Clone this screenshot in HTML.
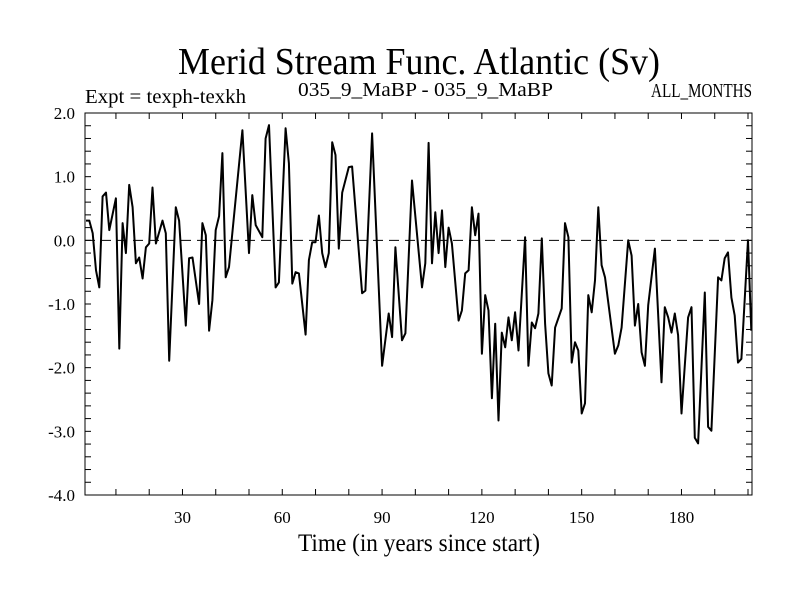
<!DOCTYPE html>
<html><head><meta charset="utf-8"><style>
html,body{margin:0;padding:0;background:#fff;}
svg{display:block;font-family:"Liberation Serif",serif;}
</style></head><body>
<svg id="chart" width="800" height="600" viewBox="0 0 800 600">
<text x="178" y="74" font-size="38" textLength="482" lengthAdjust="spacingAndGlyphs">Merid Stream Func. Atlantic (Sv)</text>
<text x="85" y="103" font-size="20" textLength="161" lengthAdjust="spacingAndGlyphs">Expt = texph-texkh</text>
<text x="298" y="96" font-size="20" textLength="255" lengthAdjust="spacingAndGlyphs">035_9_MaBP - 035_9_MaBP</text>
<text x="651" y="97" font-size="20" textLength="101" lengthAdjust="spacingAndGlyphs">ALL_MONTHS</text>
<text x="298" y="551" font-size="25" textLength="242" lengthAdjust="spacingAndGlyphs">Time (in years since start)</text>
<g id="axes"></g>
<g id="series"></g>
</svg>
<script>
const years = [1,2,3,4,5,6,7,8,10,11,12,13,14,15,16,17,18,19,20,21,22,24,25,26,28,29,31,32,33,35,36,37,38,39,40,41,42,43,44,48,50,51,52,54,55,56,58,59,61,62,63,64,65,67,68,69,70,71,72,73,74,75,76,77,78,80,81,84,85,87,90,92,93,94,96,97,99,102,103,104,105,106,107,108,109,110,111,113,114,115,116,117,118,119,120,121,122,123,124,125,126,127,128,129,130,131,133,134,135,136,137,138,139,140,141,142,144,145,146,147,148,149,150,151,152,153,154,155,156,157,160,161,162,164,165,166,167,168,169,170,172,174,175,176,177,178,179,180,182,183,184,185,187,188,189,191,192,193,194,195,196,197,198,200,201];
const values = [0.31,0.31,0.11,-0.47,-0.74,0.69,0.75,0.16,0.66,-1.70,0.27,-0.2,0.87,0.52,-0.36,-0.27,-0.60,-0.11,-0.05,0.83,-0.05,0.31,0.11,-1.89,0.52,0.31,-1.34,-0.28,-0.27,-1.0,0.27,0.08,-1.42,-0.94,0.16,0.38,1.37,-0.58,-0.42,1.73,-0.2,0.71,0.24,0.05,1.60,1.81,-0.74,-0.66,1.76,1.21,-0.68,-0.50,-0.52,-1.48,-0.31,-0.03,-0.03,0.39,-0.2,-0.42,-0.2,1.54,1.34,-0.13,0.75,1.15,1.16,-0.83,-0.79,1.68,-1.97,-1.15,-1.52,-0.11,-1.57,-1.46,0.94,-0.74,-0.36,1.53,-0.36,0.44,-0.2,0.47,-0.42,0.2,-0.05,-1.26,-1.10,-0.52,-0.47,0.52,0.08,0.42,-1.78,-0.86,-1.10,-2.48,-1.31,-2.83,-1.45,-1.68,-1.21,-1.57,-1.13,-1.73,0.05,-1.97,-1.29,-1.38,-1.15,0.03,-1.31,-2.09,-2.28,-1.37,-1.07,0.27,0.05,-1.92,-1.60,-1.73,-2.72,-2.56,-0.86,-1.13,-0.63,0.52,-0.39,-0.58,-1.78,-1.65,-1.37,0.0,-0.24,-1.34,-1.0,-1.76,-1.97,-1.02,-0.13,-2.23,-1.05,-1.21,-1.45,-1.15,-1.49,-2.72,-1.21,-1.05,-3.10,-3.19,-0.82,-2.93,-2.99,-0.58,-0.63,-0.28,-0.19,-0.9,-1.18,-1.92,-1.86,0.0,-1.42];
const xTickLabels = [30,60,90,120,150,180];
const yTickLabels = [2.0,1.0,0.0,-1.0,-2.0,-3.0,-4.0];

const L=85,R=752,T=113,B=495,XMIN=0.7,XMAX=201.2,YMIN=-4,YMAX=2;
const sx=v=>L+(v-XMIN)/(XMAX-XMIN)*(R-L);
const sy=v=>B-(v-YMIN)/(YMAX-YMIN)*(B-T);
const NS='http://www.w3.org/2000/svg';
const axes=document.getElementById('axes'), series=document.getElementById('series');
function mk(tag,attrs,parent){const e=document.createElementNS(NS,tag);for(const k in attrs)e.setAttribute(k,attrs[k]);parent.appendChild(e);return e;}

const frame=mk('rect',{x:L,y:T,width:R-L,height:B-T,fill:'none',stroke:'#000','stroke-width':1},axes);



const zero=mk('line',{x1:L,x2:R,y1:sy(0),y2:sy(0),stroke:'#000','stroke-width':1,'stroke-dasharray':'10,6'},axes);



for(let v=-4;v<=2.0001;v+=0.2){
  const y=sy(v), len=6;
  const t1=mk('line',{x1:L,x2:L+len,y1:y,y2:y,stroke:'#000'},axes);
  
  
  const t2=mk('line',{x1:R,x2:R-len,y1:y,y2:y,stroke:'#000'},axes);
  
  
}
yTickLabels.forEach(v=>{
  const t=mk('text',{x:75,y:sy(v)+6,'text-anchor':'end','font-size':17},axes);
  t.textContent=v.toFixed(1);
  
  
});
for(let yr=10;yr<=200;yr+=10){
  const x=sx(yr), len=6;
  const b=mk('line',{x1:x,x2:x,y1:B,y2:B-len,stroke:'#000'},axes);
  
  
  const t=mk('line',{x1:x,x2:x,y1:T,y2:T+len,stroke:'#000'},axes);
  
  
}
xTickLabels.forEach(v=>{
  const t=mk('text',{x:sx(v),y:523,'text-anchor':'middle','font-size':17},axes);
  t.textContent=v;
  
  
});
const d=years.map((yr,i)=>(i?'L':'M')+sx(yr).toFixed(1)+','+sy(values[i]).toFixed(1)).join(' ');
const line=mk('path',{d:d,fill:'none',stroke:'#000','stroke-width':2,'stroke-linejoin':'round'},series);


</script>
</body></html>
